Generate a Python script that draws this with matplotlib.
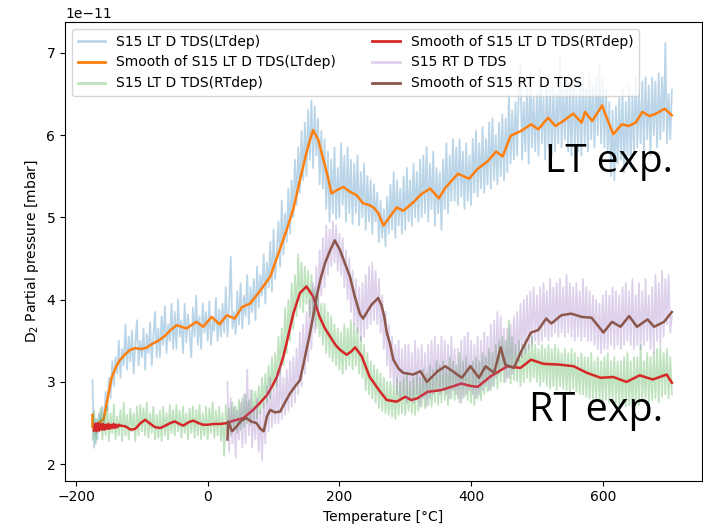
import numpy as np
import matplotlib
matplotlib.use("Agg")
from matplotlib import pyplot as plt

# pressure values are stored in units of 1e-11 mbar
UNIT = 1e-11

# raw TDS traces, sampled every 2.5 degC (one row = 25 degC)
t_lt_raw = np.arange(-175, 705.1, 2.5)
p_lt_raw = [
    3.02, 2.20, 2.55, 2.30, 2.62, 2.45, 2.70, 2.50, 2.88, 2.65,
    3.05, 2.80, 3.25, 2.95, 3.30, 3.10, 3.50, 3.05, 3.40, 3.20,
    3.70, 3.15, 3.55, 3.25, 3.62, 3.10, 3.45, 3.75, 3.20, 3.50,
    3.30, 3.65, 3.15, 3.58, 3.35, 3.72, 3.20, 3.55, 3.85, 3.30,
    3.65, 3.30, 3.80, 3.45, 3.92, 3.35, 3.70, 3.50, 3.95, 3.40,
    3.85, 3.40, 4.00, 3.55, 3.75, 3.35, 3.95, 3.48, 3.82, 3.60,
    3.30, 3.90, 3.55, 4.05, 3.45, 3.80, 3.40, 3.95, 3.60, 3.85,
    3.50, 3.98, 3.45, 3.75, 3.62, 4.02, 3.50, 3.88, 3.55, 3.95,
    3.60, 4.15, 3.55, 3.92, 4.52, 3.65, 3.85, 3.58, 4.10, 3.70,
    4.20, 3.65, 4.05, 3.80, 4.30, 3.70, 4.15, 3.85, 4.25, 3.75,
    4.40, 3.90, 4.30, 4.05, 4.55, 3.95, 4.45, 4.15, 4.70, 4.10,
    4.85, 4.25, 4.60, 4.95, 4.40, 5.20, 4.55, 5.05, 4.70, 5.35,
    4.80, 5.45, 5.00, 5.70, 5.15, 5.85, 5.30, 6.05, 5.45, 6.15,
    5.50, 6.30, 5.70, 6.42, 5.60, 6.35, 5.75, 6.20, 5.40, 6.05,
    5.35, 5.95, 5.10, 5.80, 4.95, 5.70, 5.05, 5.85, 4.98, 5.60,
    5.00, 5.90, 5.15, 5.75, 4.95, 5.85, 5.05, 5.70, 4.92, 5.65,
    5.05, 5.75, 4.90, 5.55, 5.00, 5.65, 4.85, 5.50, 4.95, 5.45,
    4.80, 5.40, 4.95, 5.30, 4.70, 5.20, 4.75, 5.10, 4.65, 5.25,
    4.80, 5.40, 4.85, 5.55, 4.75, 5.45, 4.90, 5.35, 4.80, 5.50,
    4.85, 5.60, 4.95, 5.45, 4.90, 5.65, 5.00, 5.55, 4.95, 5.70,
    5.00, 5.75, 5.05, 5.85, 4.95, 5.65, 5.10, 5.80, 4.90, 5.60,
    5.05, 5.55, 4.85, 5.70, 5.10, 5.90, 5.05, 5.75, 5.20, 5.95,
    5.20, 5.85, 5.15, 5.95, 5.25, 5.80, 5.10, 5.90, 5.20, 5.75,
    5.15, 5.95, 5.30, 6.05, 5.25, 5.90, 5.35, 6.10, 5.30, 5.95,
    5.40, 6.15, 5.35, 6.20, 5.45, 6.00, 5.40, 6.15, 5.50, 6.25,
    5.45, 6.20, 5.55, 6.50, 5.65, 6.30, 5.70, 6.40, 5.75, 6.60,
    6.85, 5.70, 6.40, 5.80, 6.60, 5.65, 6.75, 5.85, 6.45, 5.80,
    6.50, 5.75, 6.80, 5.90, 6.45, 5.70, 6.65, 5.85, 6.55, 5.75,
    6.60, 5.80, 6.50, 5.90, 6.95, 5.85, 6.55, 5.95, 6.70, 5.80,
    6.60, 5.75, 6.70, 5.85, 6.50, 5.80, 6.65, 5.75, 6.75, 5.90,
    6.55, 5.80, 6.75, 5.95, 6.60, 5.85, 6.70, 6.00, 6.85, 5.90,
    6.70, 5.85, 6.55, 5.80, 6.40, 5.50, 6.30, 5.45, 6.35, 5.65,
    6.45, 5.70, 6.55, 5.55, 6.40, 5.75, 6.60, 5.60, 6.50, 5.80,
    6.70, 5.85, 6.55, 5.90, 6.65, 5.80, 6.70, 5.95, 6.60, 5.75,
    6.70, 6.00, 6.65, 5.85, 6.75, 5.95, 6.70, 6.05, 7.12, 5.90,
    6.50, 5.95, 6.55,
]

t_rtdep_raw = np.arange(-175, 705.1, 2.5)
p_rtdep_raw = [
    2.30, 2.65, 2.25, 2.55, 2.40, 2.68, 2.30, 2.60, 2.35, 2.70,
    2.28, 2.62, 2.38, 2.72, 2.30, 2.58, 2.35, 2.66, 2.28, 2.75,
    2.35, 2.60, 2.30, 2.68, 2.40, 2.62, 2.28, 2.70, 2.35, 2.72,
    2.40, 2.68, 2.35, 2.75, 2.32, 2.62, 2.38, 2.70, 2.30, 2.60,
    2.32, 2.65, 2.28, 2.70, 2.35, 2.62, 2.30, 2.72, 2.38, 2.66,
    2.35, 2.72, 2.40, 2.65, 2.32, 2.70, 2.38, 2.62, 2.30, 2.68,
    2.38, 2.70, 2.32, 2.66, 2.35, 2.72, 2.30, 2.62, 2.35, 2.70,
    2.30, 2.68, 2.38, 2.75, 2.32, 2.65, 2.35, 2.70, 2.28, 2.62,
    2.10, 2.72, 2.40, 2.68, 2.35, 2.75, 2.42, 2.70, 2.38, 2.78,
    2.42, 2.80, 2.45, 2.85, 2.50, 2.78, 2.48, 2.90, 2.55, 2.88,
    2.55, 2.95, 2.62, 3.05, 2.68, 3.10, 2.75, 3.20, 2.80, 3.30,
    2.90, 3.35, 2.95, 3.55, 3.10, 3.65, 3.20, 3.90, 3.35, 4.00,
    3.50, 4.20, 3.65, 4.30, 3.80, 4.55, 3.90, 4.45, 3.85, 4.40,
    3.95, 4.35, 3.80, 4.30, 3.75, 4.15, 3.65, 4.05, 3.55, 3.95,
    3.45, 3.95, 3.35, 3.85, 3.30, 3.80, 3.25, 3.70, 3.20, 3.65,
    3.15, 3.60, 3.10, 3.70, 3.15, 3.65, 3.20, 3.75, 3.15, 3.70,
    3.20, 3.65, 3.10, 3.55, 3.05, 3.45, 2.90, 3.35, 2.85, 3.25,
    2.80, 3.20, 2.75, 3.15, 2.68, 3.10, 2.65, 3.05, 2.62, 3.00,
    2.60, 3.00, 2.58, 2.95, 2.55, 3.05, 2.60, 3.00, 2.62, 3.05,
    2.60, 3.10, 2.65, 3.00, 2.62, 3.05, 2.60, 3.10, 2.65, 3.05,
    2.70, 3.15, 2.68, 3.10, 2.72, 3.20, 2.70, 3.15, 2.75, 3.25,
    2.72, 3.20, 2.75, 3.25, 2.78, 3.15, 2.72, 3.30, 2.80, 3.25,
    2.78, 3.20, 2.80, 3.35, 2.75, 3.25, 2.82, 3.30, 2.78, 3.20,
    2.75, 3.25, 2.72, 3.30, 2.80, 3.25, 2.78, 3.35, 2.85, 3.30,
    2.88, 3.40, 2.90, 3.35, 2.95, 3.45, 2.92, 3.50, 3.00, 3.55,
    3.00, 3.50, 3.05, 3.75, 2.98, 3.55, 3.02, 3.45, 3.00, 3.50,
    2.95, 3.45, 3.00, 3.50, 3.05, 3.45, 3.00, 3.55, 3.05, 3.45,
    3.00, 3.40, 2.95, 3.45, 3.00, 3.40, 2.95, 3.45, 2.92, 3.40,
    2.95, 3.45, 2.90, 3.40, 2.95, 3.35, 2.92, 3.40, 2.90, 3.35,
    2.88, 3.40, 2.92, 3.35, 2.88, 3.30, 2.85, 3.35, 2.85, 3.30,
    2.82, 3.30, 2.80, 3.35, 2.78, 3.25, 2.80, 3.30, 2.78, 3.25,
    2.75, 3.30, 2.78, 3.35, 2.75, 3.25, 2.80, 3.30, 2.75, 3.25,
    2.72, 3.25, 2.75, 3.30, 2.70, 3.35, 2.72, 3.25, 2.70, 3.30,
    2.75, 3.30, 2.72, 3.45, 2.78, 3.25, 2.80, 3.35, 2.75, 3.30,
    2.78, 3.35, 2.80, 3.40, 2.75, 3.42, 2.82, 3.35, 2.85, 3.40,
    2.80, 3.30, 2.85,
]

t_rt_raw = np.arange(30, 705.1, 2.5)
p_rt_raw = [
    3.00, 2.15, 2.80, 2.25, 2.70, 2.08, 2.65, 2.30, 2.75, 2.20,
    2.85, 2.25, 3.15, 2.35, 2.90, 2.20, 2.70, 2.30, 2.80, 2.15,
    2.65, 2.05, 2.75, 2.25, 2.95, 2.40, 3.05, 2.45, 2.90, 2.50,
    3.10, 2.50, 3.20, 2.55, 3.05, 2.60, 3.15, 2.65, 3.25, 2.70,
    3.30, 2.75, 3.40, 2.85, 3.60, 2.95, 3.70, 3.10, 3.85, 3.25,
    4.00, 3.40, 4.20, 3.60, 4.40, 3.85, 4.60, 4.05, 4.75, 4.15,
    4.90, 4.30, 4.85, 4.40, 4.95, 4.45, 4.90, 4.35, 4.80, 4.30,
    4.75, 4.15, 4.60, 4.00, 4.50, 3.85, 4.35, 3.70, 4.25, 3.60,
    4.15, 3.50, 4.20, 3.55, 4.30, 3.65, 4.40, 3.70, 4.45, 3.75,
    4.35, 3.70, 4.25, 3.60, 4.05, 3.40, 3.85, 3.20, 3.70, 3.05,
    3.55, 2.95, 3.45, 2.85, 3.50, 2.80, 3.40, 2.85, 3.45, 2.75,
    3.45, 2.80, 3.35, 2.75, 3.50, 2.85, 3.40, 2.70, 3.45, 2.80,
    3.35, 2.70, 3.45, 2.80, 3.50, 2.85, 3.55, 2.90, 3.45, 2.85,
    3.55, 2.90, 3.50, 2.85, 3.45, 2.80, 3.55, 2.90, 3.40, 2.85,
    3.40, 2.75, 3.50, 2.80, 3.55, 2.85, 3.60, 2.90, 3.50, 2.85,
    3.45, 2.80, 3.55, 2.85, 3.50, 2.90, 3.60, 2.95, 3.55, 2.90,
    3.70, 2.95, 3.75, 3.05, 3.85, 3.10, 3.80, 3.15, 3.65, 3.00,
    3.65, 3.05, 3.70, 3.10, 3.80, 3.20, 3.85, 3.25, 3.95, 3.30,
    4.00, 3.35, 4.05, 3.40, 4.10, 3.45, 4.15, 3.50, 4.05, 3.45,
    4.15, 3.50, 4.20, 3.55, 4.10, 3.50, 4.25, 3.55, 4.15, 3.60,
    4.20, 3.55, 4.25, 3.60, 4.15, 3.55, 4.30, 3.60, 4.20, 3.55,
    4.15, 3.50, 4.20, 3.55, 4.10, 3.50, 4.25, 3.55, 4.15, 3.50,
    4.10, 3.50, 4.05, 3.45, 4.00, 3.40, 3.95, 3.35, 4.05, 3.40,
    4.10, 3.40, 4.05, 3.45, 4.15, 3.40, 4.10, 3.45, 4.05, 3.40,
    4.15, 3.45, 4.20, 3.50, 4.10, 3.45, 4.25, 3.40, 4.05, 3.45,
    4.20, 3.40, 4.10, 3.45, 4.25, 3.50, 4.05, 3.40, 4.15, 3.35,
    4.30, 3.50, 4.20, 3.45, 4.35, 3.55, 4.25, 3.70, 4.30, 3.60,
    3.80,
]

# smoothed traces
t_lt_smooth = [
    -175, -175, -165, -158, -152, -146, -140, -134, -126, -118, -110,
    -100, -92, -85, -75, -65, -55, -47, -40, -32, -25,
    -17, -7, 6, 18, 29, 41, 52, 64, 79, 95,
    110, 120, 130, 140, 148, 153, 160, 168, 175, 181,
    188, 196, 206, 216, 226, 236, 245, 252, 259, 267,
    277, 287, 297, 312, 324, 338, 351, 361, 369, 380,
    397, 410, 425, 438, 448, 460, 476, 491, 502, 517,
    528, 540, 555, 568, 573, 584, 599, 608, 616, 629,
    639, 650, 660, 671, 681, 694, 705,
]
p_lt_smooth = [
    2.60, 2.45, 2.50, 2.55, 2.80, 3.05, 3.17, 3.26, 3.33, 3.39, 3.41,
    3.40, 3.42, 3.46, 3.50, 3.56, 3.64, 3.69, 3.67, 3.65, 3.69,
    3.73, 3.67, 3.79, 3.70, 3.81, 3.77, 3.91, 3.95, 4.10, 4.28,
    4.62, 4.85, 5.10, 5.45, 5.72, 5.88, 6.06, 5.94, 5.72, 5.54,
    5.29, 5.33, 5.37, 5.31, 5.27, 5.17, 5.15, 5.12, 5.05, 4.90,
    5.01, 5.12, 5.08, 5.18, 5.28, 5.35, 5.23, 5.36, 5.43, 5.53,
    5.47, 5.59, 5.68, 5.80, 5.74, 5.99, 6.05, 6.13, 6.07, 6.21,
    6.11, 6.17, 6.26, 6.15, 6.28, 6.17, 6.36, 6.17, 6.01, 6.13,
    6.11, 6.15, 6.28, 6.23, 6.26, 6.32, 6.24,
]

t_rtdep_smooth = [
    -173, -171, -169, -167, -165, -163, -161, -159, -157, -155,
    -153, -151, -149, -147, -145, -143, -141, -139, -137, -135,
    -133, -125, -117, -110, -102, -95, -87,
    -80, -72, -64, -57, -50, -43, -37, -29, -22, -14,
    -7, 0, 10, 20, 29, 40, 54, 69, 80, 90,
    98, 105, 115, 122, 130, 140, 150, 160, 170, 178,
    186, 194, 201, 211, 218, 224, 234, 246, 254, 262,
    272, 287, 300, 309, 318, 334, 354, 370, 385, 400,
    410, 430, 455, 475, 491, 510, 535, 556, 576, 597,
    616, 636, 656, 676, 697, 705,
]
p_rtdep_smooth = [
    2.41, 2.49, 2.40, 2.50, 2.41, 2.49, 2.42, 2.49, 2.42, 2.48,
    2.43, 2.49, 2.43, 2.48, 2.44, 2.49, 2.44, 2.48, 2.45, 2.48,
    2.47, 2.46, 2.42, 2.43, 2.50, 2.54, 2.49,
    2.45, 2.44, 2.47, 2.50, 2.52, 2.49, 2.47, 2.51, 2.53, 2.50,
    2.48, 2.48, 2.49, 2.49, 2.50, 2.53, 2.56, 2.66, 2.75, 2.84,
    2.95, 3.06, 3.31, 3.55, 3.83, 4.08, 4.16, 4.04, 3.79, 3.65,
    3.55, 3.45, 3.39, 3.33, 3.37, 3.42, 3.31, 3.06, 2.97, 2.88,
    2.78, 2.76, 2.82, 2.78, 2.80, 2.88, 2.90, 2.94, 2.98, 2.95,
    2.94, 3.07, 3.19, 3.17, 3.27, 3.22, 3.21, 3.19, 3.11, 3.05,
    3.06, 3.00, 3.08, 3.03, 3.09, 2.99,
]

t_rt_smooth = [
    30, 31, 37, 44, 51, 59, 66, 74, 80, 85,
    90, 95, 102, 110, 118, 125, 133, 140, 145, 150,
    155, 160, 165, 171, 178, 186, 193, 201, 208, 216,
    223, 231, 236, 242, 249, 259, 264, 268, 272, 277,
    282, 290, 297, 305, 312, 323, 333, 343, 349, 361,
    372, 386, 399, 412, 422, 435, 445, 452, 465, 476,
    491, 502, 514, 522, 537, 552, 568, 583, 601, 614,
    627, 640, 652, 668, 678, 693, 705,
]
p_rt_smooth = [
    2.30, 2.52, 2.40, 2.46, 2.53, 2.56, 2.52, 2.50, 2.43, 2.40,
    2.58, 2.66, 2.63, 2.64, 2.76, 2.86, 2.95, 3.02, 3.20, 3.39,
    3.58, 3.79, 4.02, 4.24, 4.44, 4.60, 4.72, 4.60, 4.45, 4.28,
    4.05, 3.83, 3.77, 3.85, 3.94, 4.02, 3.93, 3.80, 3.60, 3.46,
    3.27, 3.16, 3.11, 3.10, 3.09, 3.13, 3.00, 3.08, 3.13, 3.19,
    3.13, 3.05, 3.19, 3.05, 3.19, 3.11, 3.42, 3.21, 3.17, 3.37,
    3.60, 3.63, 3.77, 3.71, 3.81, 3.83, 3.79, 3.78, 3.60, 3.73,
    3.67, 3.80, 3.67, 3.76, 3.67, 3.73, 3.85,
]

fig = plt.figure(figsize=(7.03, 5.28), dpi=100)
ax = fig.add_axes([0.0925, 0.0896, 0.9054, 0.8687])

raw_style = dict(alpha=0.3, lw=1.3)
smooth_style = dict(lw=1.8)

ax.plot(t_lt_raw, np.array(p_lt_raw) * UNIT, color='C0', **raw_style,
        label='S15 LT D TDS(LTdep)')
ax.plot(t_lt_smooth, np.array(p_lt_smooth) * UNIT, color='C1', **smooth_style,
        label='Smooth of S15 LT D TDS(LTdep)')
ax.plot(t_rtdep_raw, np.array(p_rtdep_raw) * UNIT, color='C2', **raw_style,
        label='S15 LT D TDS(RTdep)')
ax.plot(t_rtdep_smooth, np.array(p_rtdep_smooth) * UNIT, color='C3', **smooth_style,
        label='Smooth of S15 LT D TDS(RTdep)')
ax.plot(t_rt_raw, np.array(p_rt_raw) * UNIT, color='C4', **raw_style,
        label='S15 RT D TDS')
ax.plot(t_rt_smooth, np.array(p_rt_smooth) * UNIT, color='C5', **smooth_style,
        label='Smooth of S15 RT D TDS')

ax.set_xlim(-216.7, 750)
ax.set_ylim(1.80e-11, 7.373e-11)
ax.set_xlabel('Temperature [°C]')
ax.set_ylabel('D$_2$ Partial pressure [mbar]')
leg = ax.legend(loc='upper left', ncol=2, fontsize=10, columnspacing=2.6)
for line in leg.get_lines():
    line.set_linewidth(2.0)

ax.text(513, 5.55e-11, 'LT exp.', fontsize=28, family='Open Sans',
        ha='left', va='baseline')
ax.text(488, 2.52e-11, 'RT exp.', fontsize=28.5, family='Open Sans',
        ha='left', va='baseline')

fig.savefig('out.png', dpi=100)
